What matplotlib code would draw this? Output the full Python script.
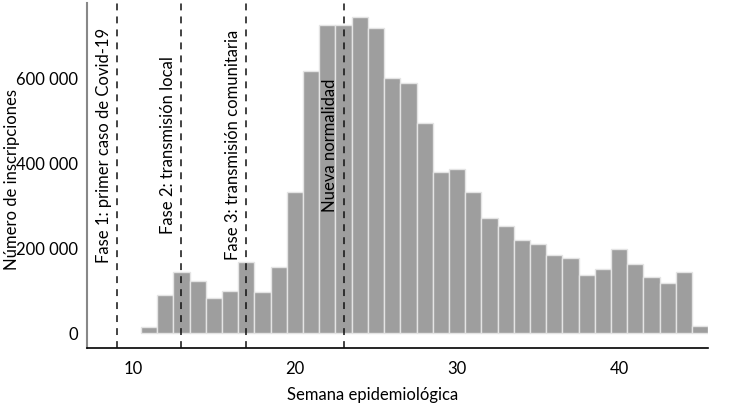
import matplotlib
matplotlib.use("Agg")
import matplotlib.pyplot as plt
from matplotlib.ticker import FuncFormatter

weeks = list(range(11, 46))
inscripciones = [14000, 90000, 143500, 123000, 84000, 99500, 167800, 96500, 155300,
                 331800, 616500, 724000, 724000, 744300, 717600, 600700, 588200,
                 494100, 379500, 386600, 331800, 271300, 253400, 218800, 209400,
                 185200, 177200, 136500, 150600, 197600, 162400, 133400, 118400,
                 144300, 16500]

event_weeks = [9, 13, 17, 23]
event_labels = ["Fase 1: primer caso de Covid-19",
                "Fase 2: transmisión local",
                "Fase 3: transmisión comunitaria",
                "Nueva normalidad"]

y_ticks = [0, 200000, 400000, 600000]
x_ticks = [10, 20, 30, 40]

plt.rcParams['font.family'] = ['Lato', 'DejaVu Sans']

fig = plt.figure(figsize=(7.37, 4.19), dpi=100)
ax = fig.add_axes([0.1187, 0.1687, 0.961 - 0.1187, 0.993 - 0.1687])

ax.bar(weeks, inscripciones, width=1.0, color='#9e9e9e', edgecolor='#e4e4e4',
       linewidth=1.0, zorder=2)

for w, lab in zip(event_weeks, event_labels):
    ax.axvline(w, color='#111111', linestyle=(0, (4.5, 4)), linewidth=1.1, zorder=3)
    ax.text(w - 0.5, 443000, lab, rotation=90, rotation_mode='anchor',
            ha='center', va='baseline', fontsize=12, color='black', zorder=4)

ax.set_xlim(7.2, 45.5)
ax.set_ylim(-35300, 777000)
ax.set_xticks(x_ticks)
ax.set_yticks(y_ticks)
ax.yaxis.set_major_formatter(FuncFormatter(lambda v, p: f"{int(v):,}".replace(",", " ")))
ax.tick_params(axis='both', length=0, labelsize=12)
ax.tick_params(axis='x', pad=9)
ax.tick_params(axis='y', pad=7)

for s in ['top', 'right']:
    ax.spines[s].set_visible(False)
ax.spines['left'].set_color('#888888')
ax.spines['left'].set_linewidth(1.5)
ax.spines['bottom'].set_color('black')
ax.spines['bottom'].set_linewidth(1.2)

fig.text(12 / 737, 1 - 180 / 419, "Número de inscripciones", rotation=90,
         ha='center', va='center', fontsize=12)
fig.text(373 / 737, 1 - 395 / 419, "Semana epidemiológica",
         ha='center', va='center', fontsize=12)

fig.savefig("out.png", dpi=100)
